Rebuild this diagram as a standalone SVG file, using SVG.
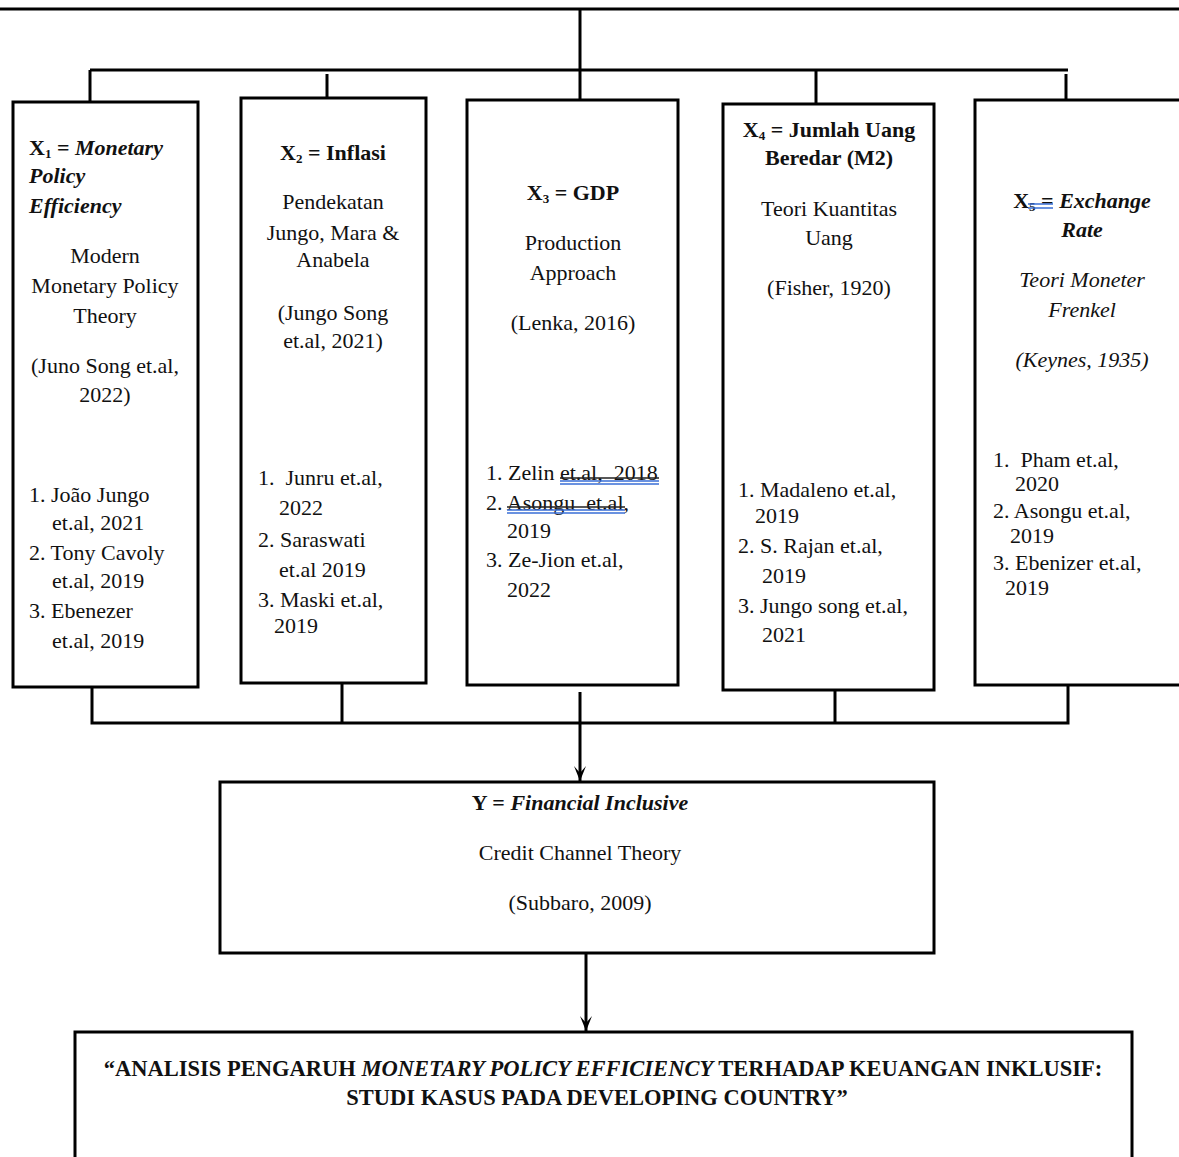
<svg xmlns="http://www.w3.org/2000/svg" width="1179" height="1157" viewBox="0 0 1179 1157">
<style>
.box{fill:#fff;stroke:#000;stroke-width:3}
.ln{fill:none;stroke:#000;stroke-width:3}
text{font-family:"Liberation Serif","Times New Roman",serif;font-size:22px;fill:#111}
.c{text-anchor:middle}
.b{font-weight:bold}
.bi{font-weight:bold;font-style:italic}
.i{font-style:italic}
.sub{font-size:13px}
.t{font-size:22.5px}
.blue{stroke:#3a6fd6;stroke-width:1.3;fill:none}
.dk{stroke:#222;stroke-width:1.4;fill:none}
</style>
<defs>
<marker id="ah" markerWidth="16" markerHeight="14" refX="15" refY="7" orient="auto" markerUnits="userSpaceOnUse" viewBox="0 0 16 14">
<path d="M0,1 L15,7 L0,13 L7,7 Z" fill="#000"/>
</marker>
</defs>
<rect width="1179" height="1157" fill="#fff"/>
<g id="connectors">
<path class="ln" d="M0,9 H1179"/>
<path class="ln" d="M580,9 V103"/>
<path class="ln" d="M90,70 H1068"/>
<path class="ln" d="M90,70 V108"/>
<path class="ln" d="M327,74 V112"/>
<path class="ln" d="M816,70 V108"/>
<path class="ln" d="M1066,74 V112"/>
<path class="ln" d="M92,687 V723 H1068 V685"/>
<path class="ln" d="M342,683 V723"/>
<path class="ln" d="M835,683 V723"/>
<path class="ln" d="M580,692 V781" marker-end="url(#ah)"/>
<path class="ln" d="M586,953 V1031" marker-end="url(#ah)"/>
</g>
<g id="x1">
<rect class="box" x="13" y="102" width="185" height="585"/>
<text x="29" y="155"><tspan class="b">X</tspan><tspan class="b sub" dy="3">1</tspan><tspan class="b" dy="-3"> = </tspan><tspan class="bi">Monetary</tspan></text>
<text x="29" y="183" class="bi">Policy</text>
<text x="29" y="213" class="bi">Efficiency</text>
<text x="105" y="263" class="c">Modern</text>
<text x="105" y="293" class="c">Monetary Policy</text>
<text x="105" y="323" class="c">Theory</text>
<text x="105" y="373" class="c">(Juno Song et.al,</text>
<text x="105" y="402" class="c">2022)</text>
<text x="29" y="502">1. João Jungo</text>
<text x="52" y="530">et.al, 2021</text>
<text x="29" y="560">2. Tony Cavoly</text>
<text x="52" y="588">et.al, 2019</text>
<text x="29" y="618">3. Ebenezer</text>
<text x="52" y="648">et.al, 2019</text>
</g>
<g id="x2">
<rect class="box" x="241" y="98" width="185" height="585"/>
<text x="333" y="160" class="c b">X<tspan class="sub" dy="3">2</tspan><tspan dy="-3"> = Inflasi</tspan></text>
<text x="333" y="209" class="c">Pendekatan</text>
<text x="333" y="240" class="c">Jungo, Mara &amp;</text>
<text x="333" y="267" class="c">Anabela</text>
<text x="333" y="320" class="c">(Jungo Song</text>
<text x="333" y="348" class="c">et.al, 2021)</text>
<text x="258" y="485" xml:space="preserve">1.  Junru et.al,</text>
<text x="279" y="515">2022</text>
<text x="258" y="547">2. Saraswati</text>
<text x="279" y="577">et.al 2019</text>
<text x="258" y="607">3. Maski et.al,</text>
<text x="274" y="633">2019</text>
</g>
<g id="x3">
<rect class="box" x="467" y="100" width="211" height="585"/>
<text x="573" y="200" class="c b">X<tspan class="sub" dy="3">3</tspan><tspan dy="-3"> = GDP</tspan></text>
<text x="573" y="250" class="c">Production</text>
<text x="573" y="280" class="c">Approach</text>
<text x="573" y="330" class="c">(Lenka, 2016)</text>
<text x="486" y="480" xml:space="preserve">1. Zelin et.al,  2018</text>
<text x="486" y="510" xml:space="preserve">2. Asongu  et.al,</text>
<text x="507" y="538">2019</text>
<text x="486" y="567">3. Ze-Jion et.al,</text>
<text x="507" y="597">2022</text>
<path class="dk" d="M560,478 H659 M507,507 H625"/>
<path class="blue" d="M560,481 H659 M560,484 H659 M507,510 H625 M507,513 H625"/>
</g>
<g id="x4">
<rect class="box" x="723" y="104" width="211" height="586"/>
<text x="829" y="137" class="c b">X<tspan class="sub" dy="3">4</tspan><tspan dy="-3"> = Jumlah Uang</tspan></text>
<text x="829" y="165" class="c b">Beredar (M2)</text>
<text x="829" y="216" class="c">Teori Kuantitas</text>
<text x="829" y="245" class="c">Uang</text>
<text x="829" y="295" class="c">(Fisher, 1920)</text>
<text x="738" y="497">1. Madaleno et.al,</text>
<text x="755" y="523">2019</text>
<text x="738" y="553">2. S. Rajan et.al,</text>
<text x="762" y="583">2019</text>
<text x="738" y="613">3. Jungo song et.al,</text>
<text x="762" y="642">2021</text>
</g>
<g id="x5">
<rect class="box" x="975" y="100" width="220" height="585"/>
<text x="1082" y="208" class="c"><tspan class="b">X</tspan><tspan class="b sub" dy="3">5</tspan><tspan class="b" dy="-3"> = </tspan><tspan class="bi">Exchange</tspan></text>
<path class="blue" d="M1028,204 H1053 M1028,208 H1053"/>
<text x="1082" y="237" class="c bi">Rate</text>
<text x="1082" y="287" class="c i">Teori Moneter</text>
<text x="1082" y="317" class="c i">Frenkel</text>
<text x="1082" y="367" class="c i">(Keynes, 1935)</text>
<text x="993" y="467" xml:space="preserve">1.  Pham et.al,</text>
<text x="1015" y="491">2020</text>
<text x="993" y="518">2. Asongu et.al,</text>
<text x="1010" y="543">2019</text>
<text x="993" y="570">3. Ebenizer et.al,</text>
<text x="1005" y="595">2019</text>
</g>
<g id="y">
<rect class="box" x="220" y="782" width="714" height="171"/>
<text x="580" y="810" class="c"><tspan class="b">Y = </tspan><tspan class="bi">Financial Inclusive</tspan></text>
<text x="580" y="860" class="c">Credit Channel Theory</text>
<text x="580" y="910" class="c">(Subbaro, 2009)</text>
</g>
<g id="title">
<rect class="box" x="75" y="1032" width="1057" height="140"/>
<text x="603" y="1076" class="c b t">“ANALISIS PENGARUH <tspan class="bi">MONETARY POLICY EFFICIENCY</tspan> TERHADAP KEUANGAN INKLUSIF:</text>
<text x="597" y="1105" class="c b t">STUDI KASUS PADA DEVELOPING COUNTRY”</text>
</g>
</svg>
